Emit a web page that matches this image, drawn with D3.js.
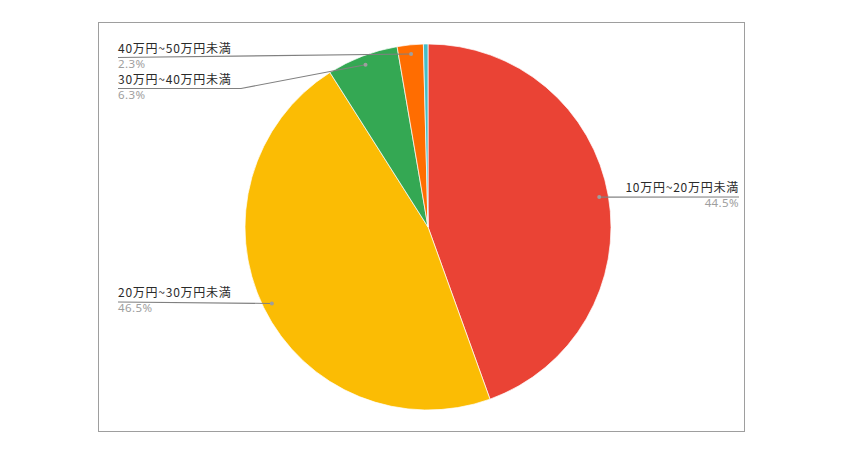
<!DOCTYPE html>
<html>
<head>
<meta charset="utf-8">
<script src="https://cdn.jsdelivr.net/npm/d3@7"></script>
<style>
  body { margin: 0; background: #fff; }
  svg { display: block; }
</style>
</head>
<body>
<div id="chart"></div>
<script>
var categories = ["10万円~20万円未満", "20万円~30万円未満", "30万円~40万円未満", "40万円~50万円未満", "50万円以上"];
var shares = [44.5, 46.5, 6.3, 2.3, 0.4];
var pctLabels = ["44.5%", "46.5%", "6.3%", "2.3%", ""];
var colors = ["#EA4335", "#FBBC04", "#34A853", "#FF6D01", "#46BDC6"];
var showLabel = [true, true, true, true, false];

const w = 844;
const h = 456;
const cx = 428, cy = 227, r = 183;

// where each callout text sits (layout only)
var labelLayout = [
    { side: "right", textX: 739, lineY: 197, elbowX: null },
    { side: "left", textX: 118, lineY: 302, elbowX: null },
    { side: "left", textX: 118, lineY: 88.5, elbowX: 241 },
    { side: "left", textX: 118, lineY: 57.5, elbowX: null }
];

const svg = d3.select("#chart")
    .append("svg")
    .attr("width", w)
    .attr("height", h);

// chart frame
svg.append("rect")
    .attr("x", 98.5)
    .attr("y", 22.5)
    .attr("width", 646)
    .attr("height", 409)
    .attr("fill", "none")
    .attr("stroke", "#9e9e9e")
    .attr("stroke-width", 1);

const pie = d3.pie().sort(null).value((d) => d);
const arcs = pie(shares);

const arc = d3.arc().innerRadius(0).outerRadius(r);
const dotArc = d3.arc().innerRadius(r * 0.95).outerRadius(r * 0.95);

const g = svg.append("g")
    .attr("transform", "translate(" + cx + "," + cy + ")");

g.selectAll("path.slice")
    .data(arcs)
    .enter()
    .append("path")
    .attr("class", "slice")
    .attr("d", arc)
    .attr("fill", (d, i) => colors[i])
    .attr("stroke", "#fff")
    .attr("stroke-width", 0.7);

// callouts
arcs.forEach(function (d, i) {
    if (!showLabel[i]) return;
    var lay = labelLayout[i];
    var c = dotArc.centroid(d);
    var px = cx + c[0], py = cy + c[1];
    var pts = [[px, py]];
    if (lay.elbowX !== null) pts.push([lay.elbowX, lay.lineY]);
    pts.push([lay.textX, lay.lineY]);

    svg.append("path")
        .attr("d", d3.line()(pts))
        .attr("fill", "none")
        .attr("stroke", "#808080")
        .attr("stroke-width", 1.1);

    svg.append("circle")
        .attr("cx", px)
        .attr("cy", py)
        .attr("r", 2)
        .attr("fill", "#9e9e9e");

    var anchor = lay.side === "right" ? "end" : "start";
    svg.append("text")
        .attr("x", lay.textX)
        .attr("y", lay.lineY - 5)
        .attr("text-anchor", anchor)
        .attr("font-family", "'Noto Sans CJK JP', 'Noto Sans', sans-serif")
        .attr("font-size", 12)
        .attr("letter-spacing", 0.75)
        .attr("fill", "#2a2a2a")
        .text(categories[i]);

    svg.append("text")
        .attr("x", lay.textX)
        .attr("y", lay.lineY + 10)
        .attr("text-anchor", anchor)
        .attr("font-family", "'Noto Sans', sans-serif")
        .attr("font-size", 11.5)
        .attr("letter-spacing", 0.4)
        .attr("fill", "#9e9e9e")
        .text(pctLabels[i]);
});
</script>
</body>
</html>
